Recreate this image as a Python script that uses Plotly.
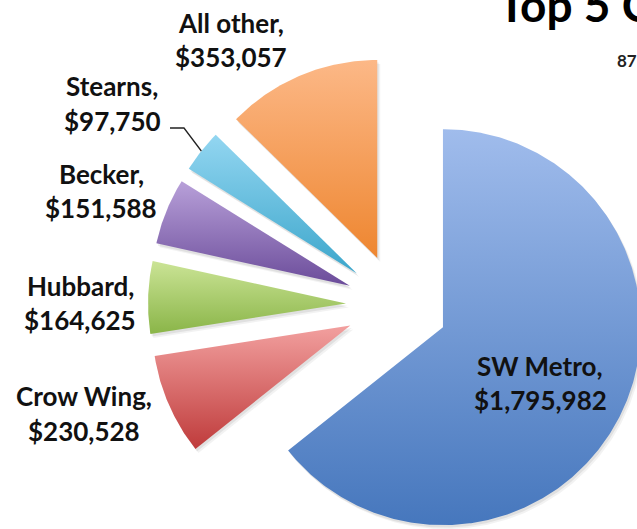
import math
import plotly.graph_objects as go

# ---- data ----
counties = ["SW Metro", "Crow Wing", "Hubbard", "Becker", "Stearns", "All other"]
amounts = [1795982, 230528, 164625, 151588, 97750, 353057]
top_colors = ["#A0BCEC", "#F2A09F", "#CBE496", "#B8A0D9", "#93D6F1", "#FCB887"]
bottom_colors = ["#4677BD", "#BF3B3B", "#8AB548", "#6B4C9A", "#3CA6CB", "#EE8630"]
title_text = "Top 5 C"
subtitle_text = "87"

# ---- layout constants (pixels, origin top-left) ----
W, H = 637, 529
CX, CY = 397, 305      # pie centre
R = 198                # radius
PULL = 51              # explode distance
# label block centres (x, y of first line, y of second line)
label_pos = {
    "SW Metro": (540, 366, 400),
    "Crow Wing": (84, 396, 431),
    "Hubbard": (80, 286, 320),
    "Becker": (101, 174, 208),
    "Stearns": (112, 86, 121),
    "All other": (231, 23, 57),
}
FONT = "Lato"

fig = go.Figure()

total = float(sum(amounts))
start = 0.0
geo = []
for name, v in zip(counties, amounts):
    sweep = 360.0 * v / total
    a0, a1 = start, start + sweep
    mid = math.radians((a0 + a1) / 2)
    ox = CX + PULL * math.sin(mid)
    oy = CY - PULL * math.cos(mid)
    n = max(8, int(sweep * 2))
    xs, ys = [ox], [oy]
    for i in range(n + 1):
        a = math.radians(a0 + (a1 - a0) * i / n)
        xs.append(ox + R * math.sin(a))
        ys.append(oy - R * math.cos(a))
    xs.append(ox)
    ys.append(oy)
    geo.append((name, v, xs, ys, mid, ox, oy))
    start = a1

# soft shadows
for name, v, xs, ys, mid, ox, oy in geo:
    for dx, dy, al in [(3, 4, 0.05), (1.5, 2.5, 0.07)]:
        fig.add_trace(go.Scatter(
            x=[x + dx for x in xs], y=[H - (y + dy) for y in ys],
            mode="lines", line=dict(width=0), fill="toself",
            fillcolor=f"rgba(0,0,0,{al})", hoverinfo="skip", showlegend=False))

# slices
for (name, v, xs, ys, mid, ox, oy), ct, cb in zip(geo, top_colors, bottom_colors):
    fig.add_trace(go.Scatter(
        x=xs, y=[H - y for y in ys], mode="lines", line=dict(width=0),
        fill="toself",
        fillgradient=dict(type="vertical", colorscale=[[0, cb], [1, ct]]),
        name=name, hoverinfo="skip", showlegend=False))

# leader line for Stearns
for name, v, xs, ys, mid, ox, oy in geo:
    if name == "Stearns":
        ex = ox + R * math.sin(mid)
        ey = oy - R * math.cos(mid)
        fig.add_trace(go.Scatter(
            x=[170, 184, ex], y=[H - 128, H - 128, H - ey], mode="lines",
            line=dict(color="#222222", width=1.3), hoverinfo="skip",
            showlegend=False))

# labels
annotations = []
for name, v in zip(counties, amounts):
    lx, y1, y2 = label_pos[name]
    for txt, yy in [(f"{name},", y1), (f"${v:,}", y2)]:
        annotations.append(dict(
            x=lx, y=H - yy, xref="x", yref="y", text=txt, showarrow=False,
            xanchor="center", yanchor="middle",
            font=dict(family=FONT, size=26, color="#111111", weight="bold")))

annotations.append(dict(
    x=496, y=H - 4, xref="x", yref="y", text=title_text, showarrow=False,
    xanchor="left", yanchor="middle",
    font=dict(family=FONT, size=46, color="#000000", weight="bold")))
annotations.append(dict(
    x=615, y=H - 60, xref="x", yref="y", text=subtitle_text, showarrow=False,
    xanchor="left", yanchor="middle",
    font=dict(family=FONT, size=17, color="#222222", weight="bold")))

fig.update_layout(
    width=W, height=H,
    margin=dict(l=0, r=0, t=0, b=0),
    paper_bgcolor="white", plot_bgcolor="white",
    xaxis=dict(range=[0, W], visible=False, fixedrange=True),
    yaxis=dict(range=[0, H], visible=False, fixedrange=True),
    annotations=annotations,
    showlegend=False,
)

fig.write_html(
    "out.html",
    config={"displayModeBar": False},
    post_script="document.body.style.margin='0px';document.body.style.overflow='hidden';",
)
